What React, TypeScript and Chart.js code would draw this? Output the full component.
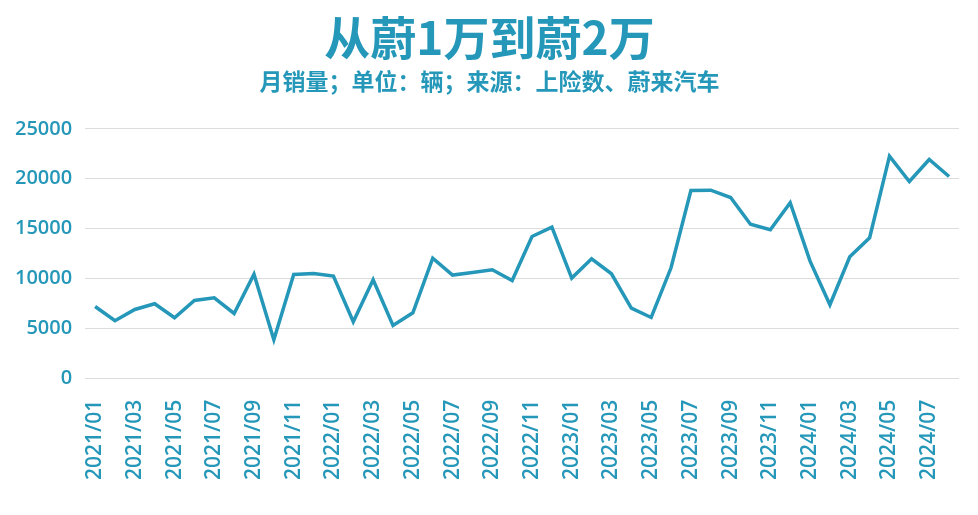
import { useEffect, useRef } from 'react';
import { Chart, registerables } from 'chart.js';

Chart.register(...registerables);

const months: string[] = [
  '2021/01', '2021/02', '2021/03', '2021/04', '2021/05', '2021/06',
  '2021/07', '2021/08', '2021/09', '2021/10', '2021/11', '2021/12',
  '2022/01', '2022/02', '2022/03', '2022/04', '2022/05', '2022/06',
  '2022/07', '2022/08', '2022/09', '2022/10', '2022/11', '2022/12',
  '2023/01', '2023/02', '2023/03', '2023/04', '2023/05', '2023/06',
  '2023/07', '2023/08', '2023/09', '2023/10', '2023/11', '2023/12',
  '2024/01', '2024/02', '2024/03', '2024/04', '2024/05', '2024/06',
  '2024/07', '2024/08',
];

const sales: number[] = [
  7230, 5800, 6930, 7500, 6100, 7830, 8100, 6530, 10460, 3900, 10430, 10530,
  10270, 5700, 9900, 5330, 6600, 12060, 10370, 10630, 10900, 9830, 14230, 15160,
  10070, 12000, 10500, 7070, 6130, 11100, 18830, 18860, 18130, 15460, 14900, 17600,
  11760, 7400, 12200, 14100, 22270, 19730, 21930, 20230,
];

const titleText = '从蔚1万到蔚2万';
const subtitleText = '月销量；单位：辆；来源：上险数、蔚来汽车';

const palette = {
  main: '#2597b9',
  grid: '#dcdcdc',
};

const cjk = '"Noto Sans CJK SC", "Noto Sans", sans-serif';
const latin = '"Open Sans", "Noto Sans", sans-serif';

export default function App(): JSX.Element {
  const canvasRef = useRef<HTMLCanvasElement | null>(null);

  useEffect(() => {
    if (!canvasRef.current) return;
    const context = canvasRef.current.getContext('2d');
    if (!context) return;

    const chart = new Chart(context, {
      type: 'line',
      data: {
        labels: months,
        datasets: [
          {
            label: '月销量',
            data: sales,
            borderColor: palette.main,
            borderWidth: 3.5,
            pointRadius: 0,
            tension: 0,
            fill: false,
          },
        ],
      },
      options: {
        animation: false,
        responsive: true,
        maintainAspectRatio: false,
        layout: { padding: { left: 10, right: 9, top: 6, bottom: 22 } },
        plugins: {
          legend: { display: false },
          tooltip: { enabled: false },
          title: {
            display: true,
            text: titleText,
            color: palette.main,
            font: { family: cjk, size: 46, weight: 'bold' },
            padding: { top: 4, bottom: 0 },
          },
          subtitle: {
            display: true,
            text: subtitleText,
            color: palette.main,
            font: { family: cjk, size: 23, weight: 'bold' },
            padding: { top: 2, bottom: 34 },
          },
        },
        scales: {
          x: {
            offset: true,
            grid: { display: false },
            border: { display: false },
            afterFit: (scale) => {
              // the empty last label reserves too much room on the right
              scale.paddingRight = 19;
            },
            ticks: {
              color: palette.main,
              font: { family: latin, size: 21, weight: 600 },
              autoSkip: false,
              minRotation: 90,
              maxRotation: 90,
              padding: 13,
              callback: (_value, index) => (index % 2 === 0 ? months[index] : ''),
            },
          },
          y: {
            min: 0,
            max: 25000,
            grid: { color: palette.grid, drawTicks: false },
            border: { display: false },
            afterFit: (scale) => {
              scale.width -= 8;
            },
            ticks: {
              stepSize: 5000,
              color: palette.main,
              font: { family: latin, size: 20, weight: 600 },
              padding: 13,
              callback: (value) => String(value),
            },
          },
        },
      },
    });

    return () => {
      chart.destroy();
    };
  }, []);

  return (
    <div style={{ position: 'absolute', left: 0, top: 0, width: 978, height: 515, background: '#fff' }}>
      <canvas ref={canvasRef} />
    </div>
  );
}
